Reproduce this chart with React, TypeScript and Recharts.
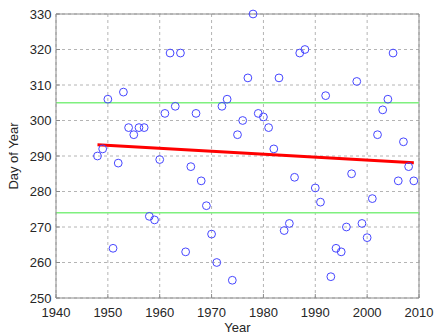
import React from "react";
import {
  ScatterChart,
  Scatter,
  XAxis,
  YAxis,
  CartesianGrid,
  ReferenceLine,
} from "recharts";

const years = [
  1948, 1949, 1950, 1951, 1952, 1953, 1954, 1955, 1956, 1957, 1958, 1959, 1960,
  1961, 1962, 1963, 1964, 1965, 1966, 1967, 1968, 1969, 1970, 1971, 1972, 1973,
  1974, 1975, 1976, 1977, 1978, 1979, 1980, 1981, 1982, 1983, 1984, 1985, 1986,
  1987, 1988, 1990, 1991, 1992, 1993, 1994, 1995, 1996, 1997, 1998, 1999, 2000,
  2001, 2002, 2003, 2004, 2005, 2006, 2007, 2008, 2009,
];
const days = [
  290, 292, 306, 264, 288, 308, 298, 296, 298, 298, 273, 272, 289,
  302, 319, 304, 319, 263, 287, 302, 283, 276, 268, 260, 304, 306,
  255, 296, 300, 312, 330, 302, 301, 298, 292, 312, 269, 271, 284,
  319, 320, 281, 277, 307, 256, 264, 263, 270, 285, 311, 271, 267,
  278, 296, 303, 306, 319, 283, 294, 287, 283,
];

// linear trend end points and the two reference levels
const trendYears = [1948, 2009];
const trendDays = [293.2, 288.1];
const upperLevel = 305;
const lowerLevel = 274;

const xTicks = [1940, 1950, 1960, 1970, 1980, 1990, 2000, 2010];
const yTicks = [250, 260, 270, 280, 290, 300, 310, 320, 330];

const points = years.map((y, i) => ({ year: y, day: days[i] }));
const trend = trendYears.map((y, i) => ({ x: y, y: trendDays[i] }));

const FONT = "'Liberation Sans', Arial, sans-serif";
const FRAME = "#8c8c8c";

const Ring = (props: any) => {
  const { cx, cy } = props;
  if (cx == null || cy == null) return null;
  return <circle cx={cx} cy={cy} r={3.9} fill="none" stroke="#4646ff" strokeWidth={1} />;
};

const XTick = ({ x, y, payload }: any) => (
  <g>
    <line x1={x} x2={x} y1={y - 9} y2={y - 13} stroke={FRAME} />
    <text x={x} y={y + 9.5} textAnchor="middle" fontSize={13} fill="#262626" fontFamily={FONT}>
      {payload.value}
    </text>
  </g>
);

const YTick = ({ x, y, payload }: any) => (
  <g>
    <line x1={x + 4.5} x2={x + 8.5} y1={y} y2={y} stroke={FRAME} />
    <text x={x} y={y + 4.5} textAnchor="end" fontSize={13} fill="#262626" fontFamily={FONT}>
      {payload.value}
    </text>
  </g>
);

export default function App() {
  return (
    <div style={{ width: 435, height: 335, background: "#fff" }}>
      <style>{`body{margin:0}`}</style>
      <ScatterChart
        width={435}
        height={335}
        margin={{ top: 14, right: 16, left: 0, bottom: 0 }}
        style={{ fontFamily: FONT }}
      >
        <CartesianGrid stroke="#b4b4b4" strokeDasharray="3 3" />
        <XAxis
          type="number"
          dataKey="year"
          domain={[1940, 2010]}
          ticks={xTicks}
          height={37}
          tickSize={0}
          tickMargin={9}
          tickLine={false}
          tick={<XTick />}
          axisLine={{ stroke: FRAME }}
          label={{
            value: "Year",
            position: "insideBottom",
            offset: 3,
            fontSize: 13,
            fill: "#262626",
            fontFamily: FONT,
          }}
        />
        <YAxis
          type="number"
          dataKey="day"
          domain={[250, 330]}
          ticks={yTicks}
          width={56}
          tickSize={0}
          tickMargin={4.5}
          tickLine={false}
          tick={<YTick />}
          axisLine={{ stroke: FRAME }}
          label={{
            value: "Day of Year",
            angle: -90,
            position: "insideLeft",
            offset: 13,
            fontSize: 13,
            fill: "#262626",
            fontFamily: FONT,
            style: { textAnchor: "middle" },
          }}
        />
        <ReferenceLine y={330} stroke={FRAME} />
        <ReferenceLine x={2010} stroke={FRAME} />
        <ReferenceLine y={upperLevel} stroke="#7ff07f" strokeWidth={1.5} />
        <ReferenceLine y={lowerLevel} stroke="#7ff07f" strokeWidth={1.5} />
        <Scatter data={points} shape={<Ring />} isAnimationActive={false} />
        <ReferenceLine
          segment={[trend[0], trend[1]]}
          stroke="#ff0000"
          strokeWidth={3}
        />
      </ScatterChart>
    </div>
  );
}
